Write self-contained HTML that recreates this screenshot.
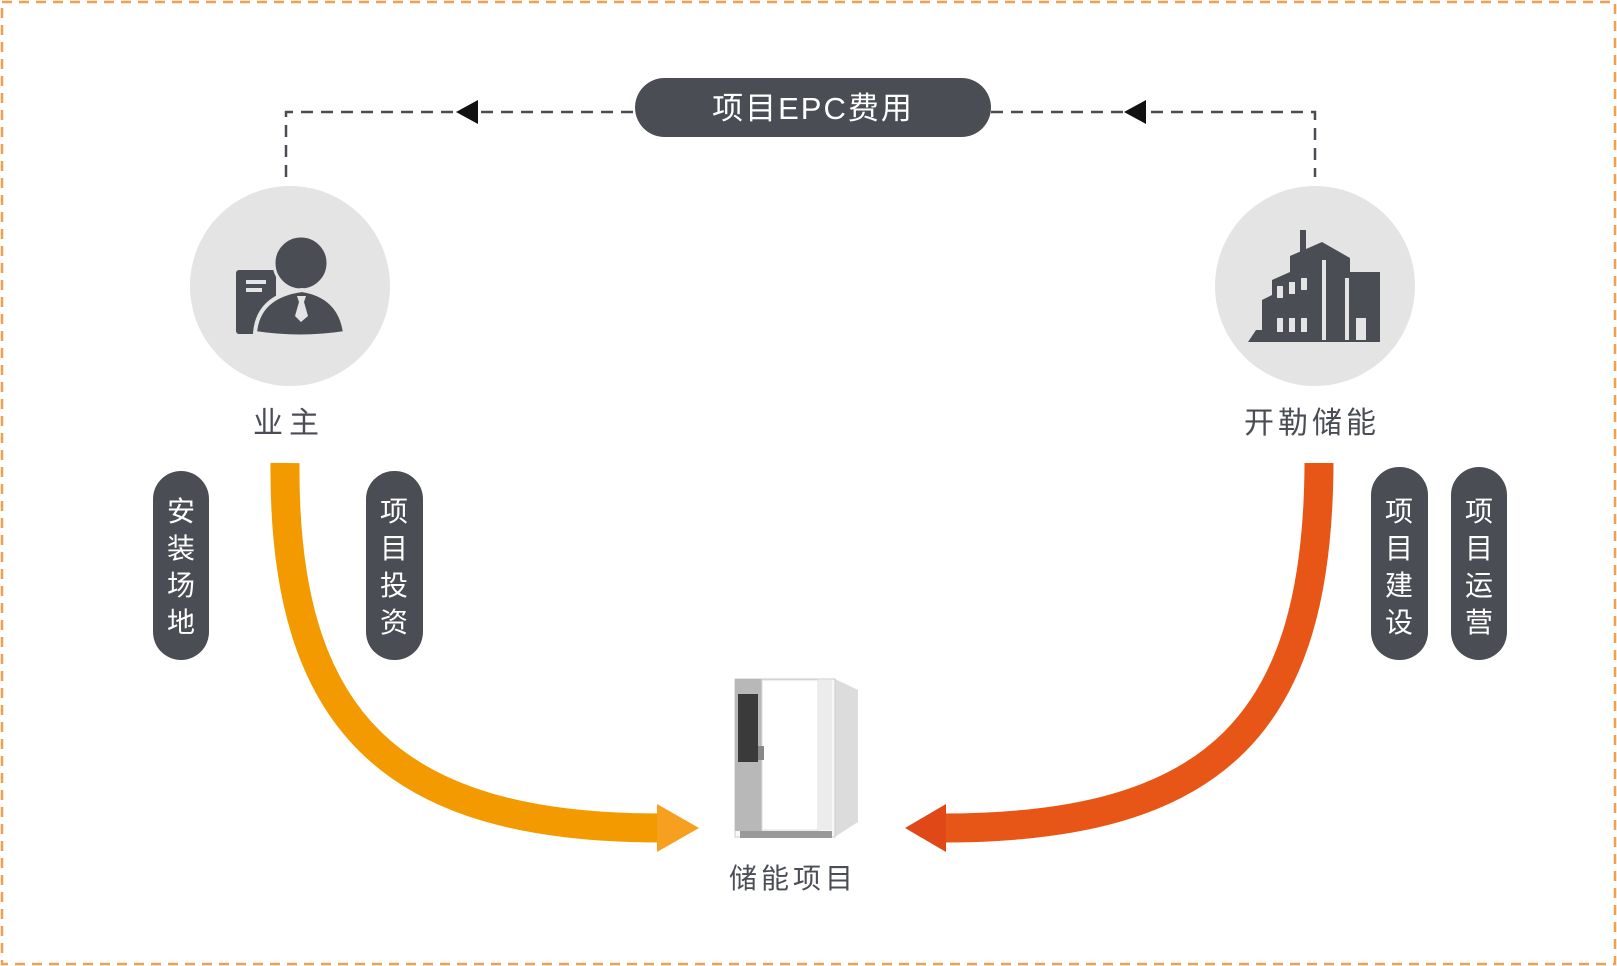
<!DOCTYPE html>
<html><head><meta charset="utf-8"><style>
html,body{margin:0;padding:0;background:#fff;}
svg{display:block;}
text{font-family:"Liberation Sans","Noto Sans CJK SC",sans-serif;}
</style></head><body>
<svg width="1617" height="966" viewBox="0 0 1617 966" xmlns="http://www.w3.org/2000/svg">
<rect x="2" y="2" width="1613" height="962" fill="none" stroke="#f0a050" stroke-width="2.5" stroke-dasharray="10,7"/>
<path d="M286 177 V112 H635 M991 112 H1315 V177" fill="none" stroke="#4a4e54" stroke-width="2.5" stroke-dasharray="12,8"/>
<polygon points="456,112 478,100 478,124" fill="#111"/>
<polygon points="1124,112 1146,100 1146,124" fill="#111"/>
<rect x="635" y="78" width="356" height="59" rx="29.5" fill="#4a4e54"/>
<text x="813" y="119" font-size="31" fill="#fff" text-anchor="middle" letter-spacing="2">项目EPC费用</text>
<circle cx="290" cy="286" r="100" fill="#e5e4e5"/>
<circle cx="1315" cy="286" r="100" fill="#e5e4e5"/>
<g fill="#4a4e54">
<rect x="236" y="270" width="40" height="64" rx="3"/>
<rect x="246" y="280" width="20" height="4" fill="#e5e4e5"/>
<rect x="246" y="288" width="16" height="4" fill="#e5e4e5"/>
<circle cx="301" cy="263" r="27" stroke="#e5e4e5" stroke-width="3"/>
<path d="M255 333 Q258 296 302 290 Q340 296 345 333 Q300 340 255 333Z" stroke="#e5e4e5" stroke-width="4"/>
<path d="M297 296 L306 296 L304 302 L308 316 L301 322 L295 316 L299 302Z" fill="#e5e4e5"/>
</g>
<g fill="#4a4e54">
<rect x="1300" y="230" width="6" height="30"/>
<path d="M1248 342 L1256 330 L1272 330 L1272 280 L1290 272 L1290 256 L1322 242 L1350 258 L1350 272 L1380 272 L1380 342Z"/>
<path d="M1262 342 L1262 300 L1282 290 L1282 342Z"/>
<g fill="#e5e4e5">
<rect x="1277" y="286" width="6" height="12"/><rect x="1289" y="282" width="6" height="12"/><rect x="1301" y="278" width="6" height="12"/>
<rect x="1277" y="318" width="6" height="14"/><rect x="1289" y="318" width="6" height="14"/><rect x="1301" y="318" width="6" height="14"/>
<rect x="1322" y="260" width="4" height="80"/><rect x="1345" y="278" width="4" height="62"/>
<rect x="1356" y="318" width="10" height="22"/>
</g>
</g>
<text x="289" y="433" font-size="30" fill="#4a4e54" text-anchor="middle" letter-spacing="6">业主</text>
<text x="1312" y="433" font-size="30" fill="#4a4e54" text-anchor="middle" letter-spacing="4">开勒储能</text>
<g fill="#4a4e54">
<rect x="153" y="471" width="56" height="189" rx="28"/>
<rect x="366" y="471" width="57" height="189" rx="28"/>
<rect x="1371" y="467" width="57" height="193" rx="28"/>
<rect x="1451" y="467" width="56" height="193" rx="28"/>
</g>
<g font-size="28" fill="#fff" text-anchor="middle">
<text x="181" y="521">安</text><text x="181" y="558">装</text><text x="181" y="595">场</text><text x="181" y="632">地</text>
<text x="394" y="521">项</text><text x="394" y="558">目</text><text x="394" y="595">投</text><text x="394" y="632">资</text>
<text x="1399" y="521">项</text><text x="1399" y="558">目</text><text x="1399" y="595">建</text><text x="1399" y="632">设</text>
<text x="1479" y="521">项</text><text x="1479" y="558">目</text><text x="1479" y="595">运</text><text x="1479" y="632">营</text>
</g>
<path d="M285 463 C283 720 390 828 660 828" fill="none" stroke="#f29a00" stroke-width="29"/>
<polygon points="657,804 699,828 657,852" fill="#f7a020"/>
<path d="M1319 463 C1318 720 1220 828 943 828" fill="none" stroke="#e85617" stroke-width="29"/>
<polygon points="946,804 905,828 946,852" fill="#e04818"/>
<g>
<polygon points="833,678 858,690 858,822 833,838" fill="#dcdcdc"/>
<rect x="735" y="679" width="100" height="158" fill="#f7f7f7" stroke="#ccc"/>
<rect x="735" y="679" width="27" height="152" fill="#b8b8b8"/>
<rect x="738" y="694" width="20" height="68" fill="#3a3a3a"/>
<rect x="762" y="680" width="56" height="150" fill="#fff" stroke="#ddd"/>
<rect x="818" y="680" width="14" height="150" fill="#ececec"/>
<rect x="758" y="746" width="6" height="14" fill="#888"/>
<rect x="740" y="831" width="92" height="7" fill="#999"/>
</g>
<text x="793" y="888" font-size="28" fill="#4a4e54" text-anchor="middle" letter-spacing="4">储能项目</text>
</svg>
</body></html>
